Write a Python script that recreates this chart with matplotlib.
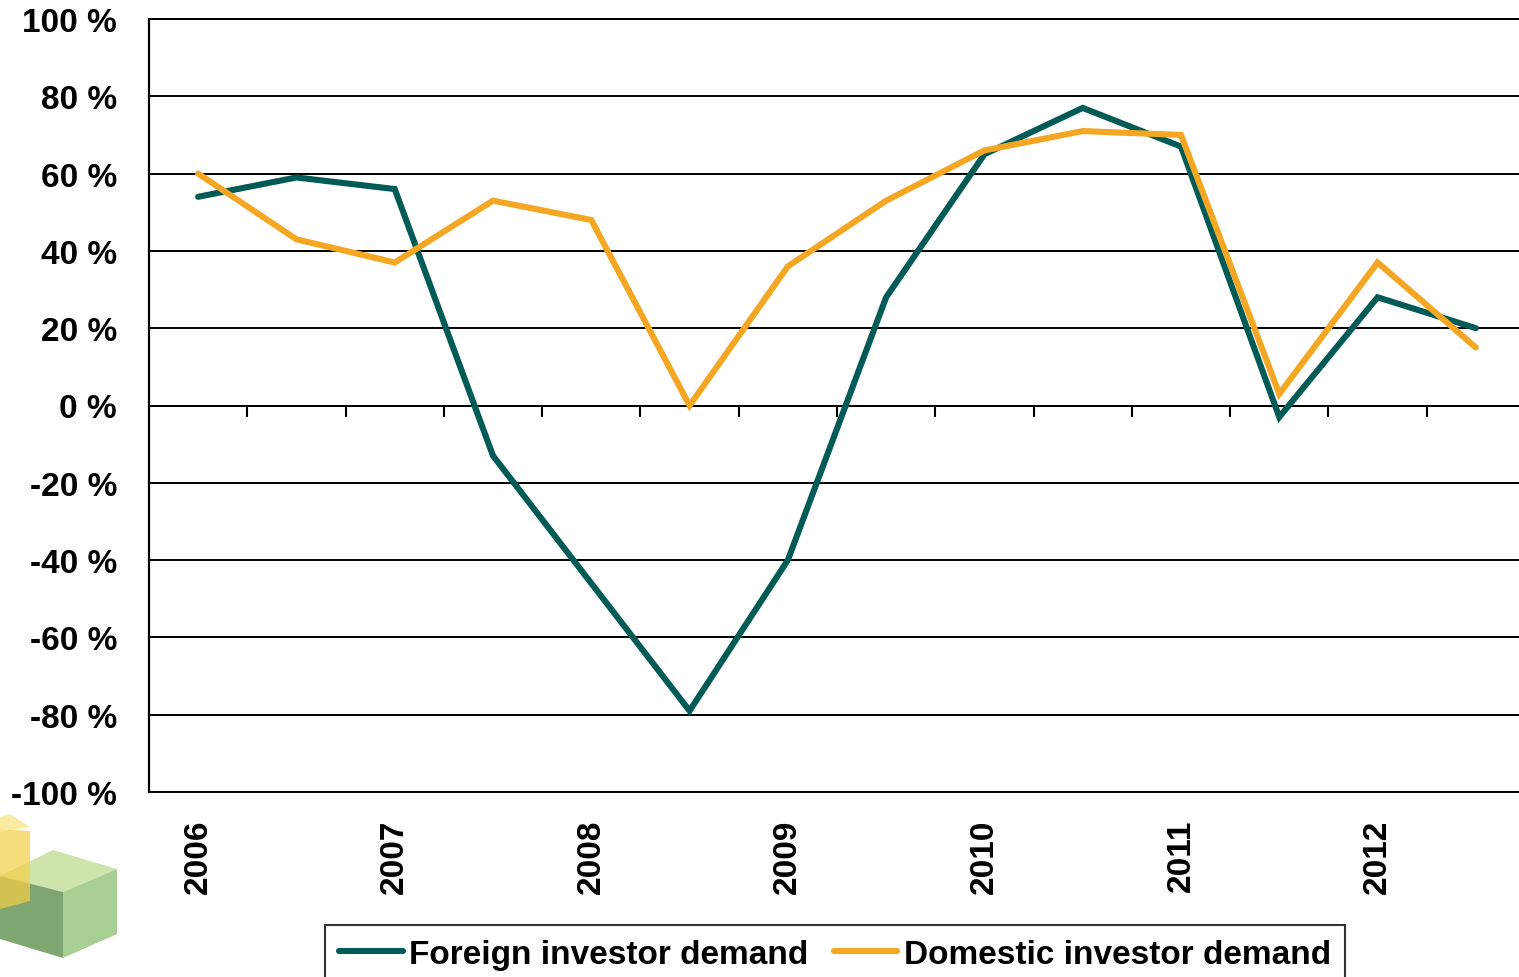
import matplotlib
matplotlib.use("Agg")
import matplotlib.pyplot as plt
from matplotlib.patches import Polygon
import numpy as np

periods = ["2006", "2006H2", "2007", "2007H2", "2008", "2008H2", "2009", "2009H2",
           "2010", "2010H2", "2011", "2011H2", "2012", "2012H2"]
foreign = [54, 59, 56, -13, -46, -79, -40, 28, 65, 77, 67, -3, 28, 20]
domestic = [60, 43, 37, 53, 48, 0, 36, 53, 66, 71, 70, 3, 37, 15]
year_labels = ["2006", "2007", "2008", "2009", "2010", "2011", "2012"]
y_ticks = list(range(-100, 101, 20))
series_names = ["Foreign investor demand", "Domestic investor demand"]
colors = ["#005a56", "#f5a623"]

plt.rcParams['font.family'] = ['Liberation Sans', 'DejaVu Sans']
plt.rcParams['font.weight'] = 'bold'

W, H = 1519, 978
fig = plt.figure(figsize=(W / 100, H / 100), dpi=100)
ax = fig.add_axes([149 / W, 1 - 793 / H, (1525 - 149) / W, (793 - 20) / H])

x = np.arange(len(periods))
ax.plot(x, foreign, color=colors[0], lw=4.4, solid_capstyle='round', solid_joinstyle='miter', label=series_names[0], zorder=3)
ax.plot(x, domestic, color=colors[1], lw=4.4, solid_capstyle='round', solid_joinstyle='miter', label=series_names[1], zorder=4)

ax.set_xlim(-0.5, len(periods) - 0.5)
ax.set_ylim(-100, 100)
ax.set_yticks(y_ticks)
ax.set_yticklabels([f"{v} %" for v in y_ticks], fontsize=24, fontweight='bold')
ax.tick_params(axis='y', length=0, pad=23)
ax.yaxis.grid(True, color='black', lw=1.4)
ax.set_axisbelow(True)

# x axis at zero with boundary ticks
ax.spines['bottom'].set_position(('data', 0))
ax.spines['bottom'].set_linewidth(1.4)
ax.set_xticks(np.arange(0.5, len(periods) - 0.5, 1))
ax.set_xticklabels([])
ax.tick_params(axis='x', direction='out', length=8, width=1.5, color='black')
ax.spines['right'].set_visible(False)
ax.spines['top'].set_linewidth(1.4)
ax.spines['left'].set_linewidth(1.6)

sec = ax.secondary_xaxis(0)
sec.set_xticks(x[::2])
sec.set_xticklabels(year_labels, rotation=90, fontsize=24, fontweight='bold')
sec.tick_params(length=0, pad=19)
sec.spines['bottom'].set_linewidth(1.4)

leg = fig.legend(loc='upper center', bbox_to_anchor=(835 / W, 1 - 926 / H), ncol=2,
                 prop={'weight': 'bold', 'size': 24}, frameon=True, fancybox=False,
                 edgecolor='black', handlelength=1.9, handletextpad=0.2, columnspacing=0.75,
                 borderpad=0.42, borderaxespad=0)
leg.get_frame().set_linewidth(1.5)

# logo approximation
def poly(pts, color, alpha=1.0, z=1):
    p = Polygon([(px / W, 1 - py / H) for px, py in pts], closed=True, transform=fig.transFigure,
                facecolor=color, edgecolor='none', alpha=alpha, zorder=z)
    fig.patches.append(p)

poly([(0, 877), (53, 851), (117, 870), (63, 893)], '#cfe4ad')
poly([(0, 877), (63, 893), (63, 959), (0, 940)], '#7fa570')
poly([(63, 893), (117, 870), (117, 935), (63, 959)], '#a9cf94')
poly([(0, 830), (30, 832), (30, 902), (0, 910)], '#f5cf45', alpha=0.7, z=2)
poly([(0, 818), (10, 815), (30, 828), (0, 833)], '#fbe58a', alpha=0.8, z=2)

fig.savefig("out.png", dpi=100)
